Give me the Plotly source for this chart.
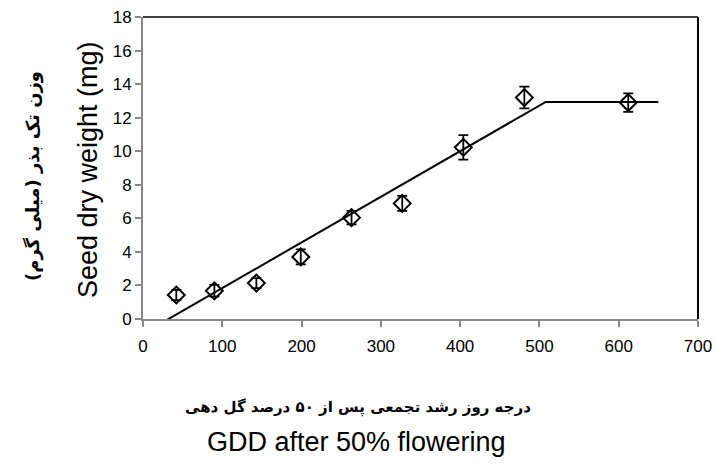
import plotly.graph_objects as go

gdd = [42, 90, 143, 199, 263, 327, 404, 481, 612]
seed_weight = [1.43, 1.68, 2.14, 3.70, 6.04, 6.89, 10.23, 13.2, 12.9]
seed_err = [0.3, 0.35, 0.3, 0.45, 0.4, 0.45, 0.73, 0.65, 0.55]

# Fitted segmented (linear-plateau) line
fit_x = [20, 508, 650]
fit_y = [-0.33, 12.94, 12.94]

x_ticks = [0, 100, 200, 300, 400, 500, 600, 700]
y_ticks = [0, 2, 4, 6, 8, 10, 12, 14, 16, 18]

y_title_en = "Seed dry weight (mg)"
y_title_fa = "وزن تک بذر (میلی گرم)"
x_title_en = "GDD after 50% flowering"
x_title_fa = "درجه روز رشد تجمعی پس از ۵۰ درصد گل دهی"

# plot-area pixel frame (used only to place the titles)
L, R, T, B = 143, 698, 17, 319
W, H = R - L, B - T


def px(xp):
    return (xp - L) / W


def py(yp):
    return (B - yp) / H


fig = go.Figure()
fig.add_trace(go.Scatter(
    x=fit_x, y=fit_y, mode="lines",
    line=dict(color="black", width=2),
    cliponaxis=False, showlegend=False, hoverinfo="skip"))
fig.add_trace(go.Scatter(
    x=gdd, y=seed_weight, mode="markers",
    marker=dict(symbol="diamond-open", size=13, color="black",
                line=dict(color="black", width=2)),
    error_y=dict(type="data", array=seed_err, visible=True,
                 color="black", thickness=1.8, width=5),
    cliponaxis=False, showlegend=False))

axis_font = dict(family="Liberation Sans, Arial, sans-serif", size=17, color="black")
fig.update_xaxes(range=[0, 700], tickvals=x_ticks, ticks="outside", ticklen=6,
                 tickcolor="#888888", tickwidth=2, showline=True, linecolor="#888888",
                 linewidth=2, showgrid=False, zeroline=False, tickfont=axis_font,
                 ticklabelstandoff=5, automargin=False)
fig.update_yaxes(range=[0, 18], tickvals=y_ticks, ticks="outside", ticklen=6,
                 tickcolor="#888888", tickwidth=2, showline=True, linecolor="#888888",
                 linewidth=2, showgrid=False, zeroline=False, tickfont=axis_font,
                 automargin=False)

fig.update_layout(
    width=716, height=466,
    margin=dict(l=L, r=716 - R, t=T, b=466 - B),
    paper_bgcolor="white", plot_bgcolor="white",
    shapes=[
        dict(type="line", xref="paper", yref="paper", x0=0, x1=1, y0=1, y1=1,
             line=dict(color="black", width=1.5)),
        dict(type="line", xref="paper", yref="paper", x0=1, x1=1, y0=0, y1=1,
             line=dict(color="black", width=2)),
    ],
    annotations=[
        dict(text=y_title_en, xref="paper", yref="paper", x=px(88), y=py(170),
             xanchor="center", yanchor="middle", textangle=-90, showarrow=False,
             font=dict(family="Liberation Sans, Arial, sans-serif", size=27, color="black")),
        dict(text=y_title_fa, xref="paper", yref="paper", x=px(33), y=py(176),
             xanchor="center", yanchor="middle", textangle=-90, showarrow=False,
             font=dict(family="DejaVu Sans, sans-serif", size=18, color="black", weight="bold")),
        dict(text=x_title_fa, xref="paper", yref="paper", x=px(358), y=py(407),
             xanchor="center", yanchor="middle", showarrow=False,
             font=dict(family="DejaVu Sans, sans-serif", size=15, color="black", weight="bold")),
        dict(text=x_title_en, xref="paper", yref="paper", x=px(356), y=py(442),
             xanchor="center", yanchor="middle", showarrow=False,
             font=dict(family="Liberation Sans, Arial, sans-serif", size=27, color="black")),
    ],
)

fig.write_html("out.html", config={"displayModeBar": False},
               post_script="document.body.style.margin='0';")
